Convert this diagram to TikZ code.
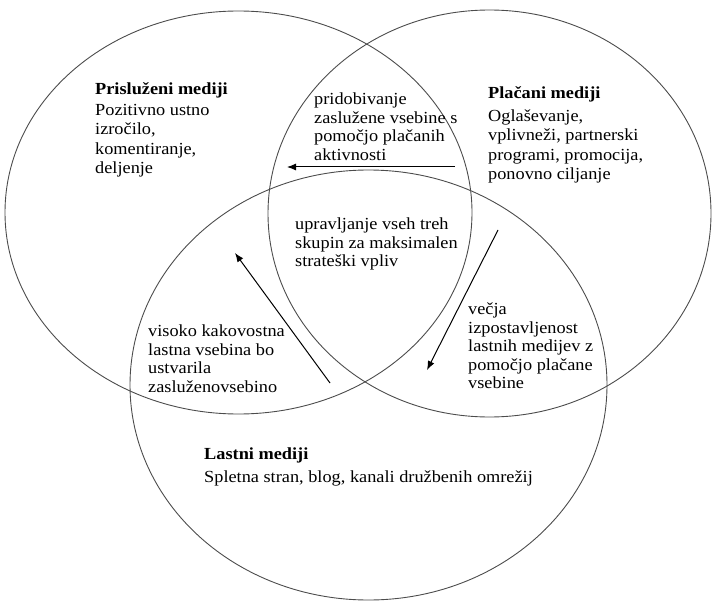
\documentclass[tikz,border=0pt]{standalone}
\usepackage{fontspec}
\setmainfont[FakeStretch=1.08]{Liberation Serif}
\usetikzlibrary{arrows.meta,shapes.geometric}

\begin{document}
\begin{tikzpicture}[x=1bp,y=-1bp,>={Latex[length=9bp,width=7bp]},
    media/.style={draw=black!70,ellipse,line width=0.9bp,inner sep=0},
    label/.style={anchor=north west,inner sep=0,align=left,font=\fontsize{17}{19.5}\selectfont},
    note/.style={anchor=north west,inner sep=0,align=left,font=\fontsize{17}{18.5}\selectfont},
    flow/.style={->,line width=1bp}]
    \useasboundingbox (0,0) rectangle (715,605);
    %% the three media circles
    \node (earned) at (238.5,212.5) [media,minimum width=467bp,minimum height=403bp] {};
    \node (paid) at (489.5,213.5) [media,minimum width=443bp,minimum height=407bp] {};
    \node (owned) at (368.5,385) [media,minimum width=477bp,minimum height=430bp] {};
    %% titles
    \node (earnedtxt) at (95,82) [label] {\textbf{Prisluženi mediji}\\[2bp]Pozitivno ustno\\izročilo,\\komentiranje,\\deljenje};
    \node (paidtxt) at (488,86) [label] {\textbf{Plačani mediji}\\[4bp]Oglaševanje,\\vplivneži, partnerski\\programi, promocija,\\ponovno ciljanje};
    \node (ownedtxt) at (204,448) [label] {\textbf{Lastni mediji}\\[3bp]Spletna stran, blog, kanali družbenih omrežij};
    %% overlaps
    \node (paidearned) at (314,93) [note] {pridobivanje\\zaslužene vsebine s\\pomočjo plačanih\\aktivnosti};
    \node (all) at (295,218) [note] {upravljanje vseh treh\\skupin za maksimalen\\strateški vpliv};
    \node (ownedearned) at (148,325) [note] {visoko kakovostna\\lastna vsebina bo\\ustvarila\\zasluženovsebino};
    \node (paidowned) at (468,303) [note] {večja\\izpostavljenost\\lastnih medijev z\\pomočjo plačane\\vsebine};
    %% arrows
    \coordinate (pe1) at (455,167);
    \coordinate (pe2) at (287,167);
    \coordinate (oe1) at (330,383);
    \coordinate (oe2) at (235,253);
    \coordinate (po1) at (498,230);
    \coordinate (po2) at (427,370);
    \draw [flow] (pe1) -- (pe2);
    \draw [flow] (oe1) -- (oe2);
    \draw [flow] (po1) -- (po2);
\end{tikzpicture}
\end{document}
